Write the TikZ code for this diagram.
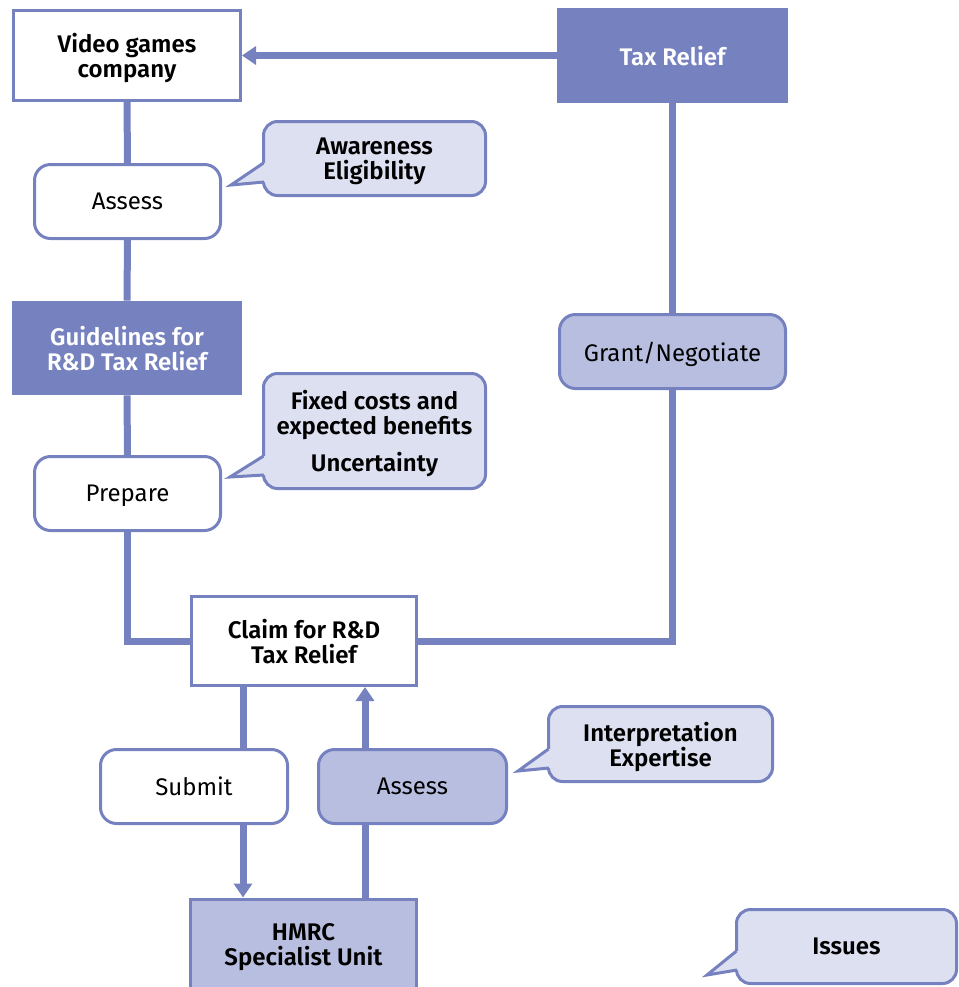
\documentclass[tikz,border=0pt]{standalone}
\usepackage{fontspec}
\setmainfont{Fira Sans}[BoldFont={Fira Sans SemiBold}]
\usepackage{tikz}
\usetikzlibrary{arrows.meta}
\usetikzlibrary{calc}

\definecolor{hmrcblue}{HTML}{7681BF}
\definecolor{hmrclight}{HTML}{B8BEE0}
\definecolor{hmrcpale}{HTML}{DDE0F0}
\newcommand{\boxfont}{\fontsize{12}{12.5}\selectfont}

\begin{document}
\begin{tikzpicture}[x=0.5pt,y=-0.5pt,>={Triangle[width=9pt,length=7pt]},
  link/.style={draw=hmrcblue,line width=3.5pt},
  plain box/.style={rectangle,draw=hmrcblue,line width=1.5pt,fill=white,align=center,text depth=0pt,font=\boxfont\bfseries},
  dark box/.style={rectangle,fill=hmrcblue,text=white,align=center,text depth=0pt,font=\boxfont\bfseries},
  stage node/.style={rectangle,rounded corners=8pt,draw=hmrcblue,line width=1.5pt,fill=white,minimum width=93pt,minimum height=37pt,text depth=0pt,font=\boxfont},
  bubble/.style={rectangle,rounded corners=7pt,draw=hmrcblue,line width=1.5pt,fill=hmrcpale,align=center,text depth=0pt,font=\boxfont\bfseries,minimum height=37pt}]

  \useasboundingbox (0,0) rectangle (959,987);

  % left column
  \node[plain box,minimum width=113.5pt,minimum height=45pt] (company) at (127,55.5) {Video games\\company};
  \node[stage node] (assess1) at (127.5,201.5) {Assess};
  \node[dark box,minimum width=115pt,minimum height=47pt] (guide) at (127,348) {Guidelines for\\R\&D Tax Relief};
  \node[stage node] (prepare) at (127.5,493.5) {Prepare};

  % right column
  \node[dark box,minimum width=115.5pt,minimum height=47.5pt] (relief) at (672.5,55.5) {Tax Relief};
  \node[stage node,fill=hmrclight,minimum width=113pt] (grant) at (672.5,351.5) {Grant/Negotiate};

  % claim and HMRC
  \node[plain box,minimum width=112.5pt,minimum height=44.5pt] (claim) at (304,641) {Claim for R\&D\\Tax Relief};
  \node[stage node,minimum width=93.5pt] (submit) at (194,786.5) {Submit};
  \node[stage node,fill=hmrclight,minimum width=94pt] (assess2) at (412.5,786.5) {Assess};
  \node[plain box,fill=hmrclight,minimum width=113pt,minimum height=45pt] (hmrc) at (303.5,944) {HMRC\\Specialist Unit};

  % speech bubbles
  \node[bubble,minimum width=111pt] (aware) at (374.5,158.5) {Awareness\\Eligibility};
  \node[bubble,minimum width=111pt,minimum height=57.5pt] (costs) at (374.5,431) {Fixed costs and\\expected benefits\\[6pt]Uncertainty};
  \node[bubble,minimum width=112pt,minimum height=37.5pt] (interp) at (660.5,744) {Interpretation\\Expertise};
  \node[bubble,minimum width=110pt] (issues) at (846.5,946.5) {Issues};

  \foreach \b/\dx/\dy in {aware/-31/-12,costs/-32/-13,interp/-29/-12,issues/-28/-10} {
    \coordinate (\b tip) at ($(\b.south west)+(\dx,\dy)$);
    \fill[hmrcpale] ($(\b.south west)+(1.5,-34)$) -- (\b tip) -- ($(\b.south west)+(2,-15)$)
      -- ($(\b.south west)+(9,-15)$) -- ($(\b.south west)+(9,-34)$) -- cycle;
    \draw[hmrcblue,line width=1.5pt] ($(\b.south west)+(1.5,-34)$) -- (\b tip) -- ($(\b.south west)+(2,-15)$);
  }

  % connectors
  \draw[link] (company.south) -- (assess1.north);
  \draw[link] (assess1.south) -- (guide.north);
  \draw[link] (guide.south) -- (prepare.north);
  \draw[link] (prepare.south) |- (claim.west);
  \draw[link] (claim.east) -| (grant.south);
  \draw[link] (grant.north) -- (relief.south);
  \draw[link,->] (relief) -- (company);

  \coordinate (subx) at (243,0);
  \coordinate (assx) at (365,0);
  \draw[link] (claim.south -| subx) -- (submit.north -| subx);
  \draw[link,->] (submit.south -| subx) -- (hmrc.north -| subx);
  \draw[link] (hmrc.north -| assx) -- (assess2.south -| assx);
  \draw[link,->] (assess2.north -| assx) -- (claim.south -| assx);
\end{tikzpicture}
\end{document}
